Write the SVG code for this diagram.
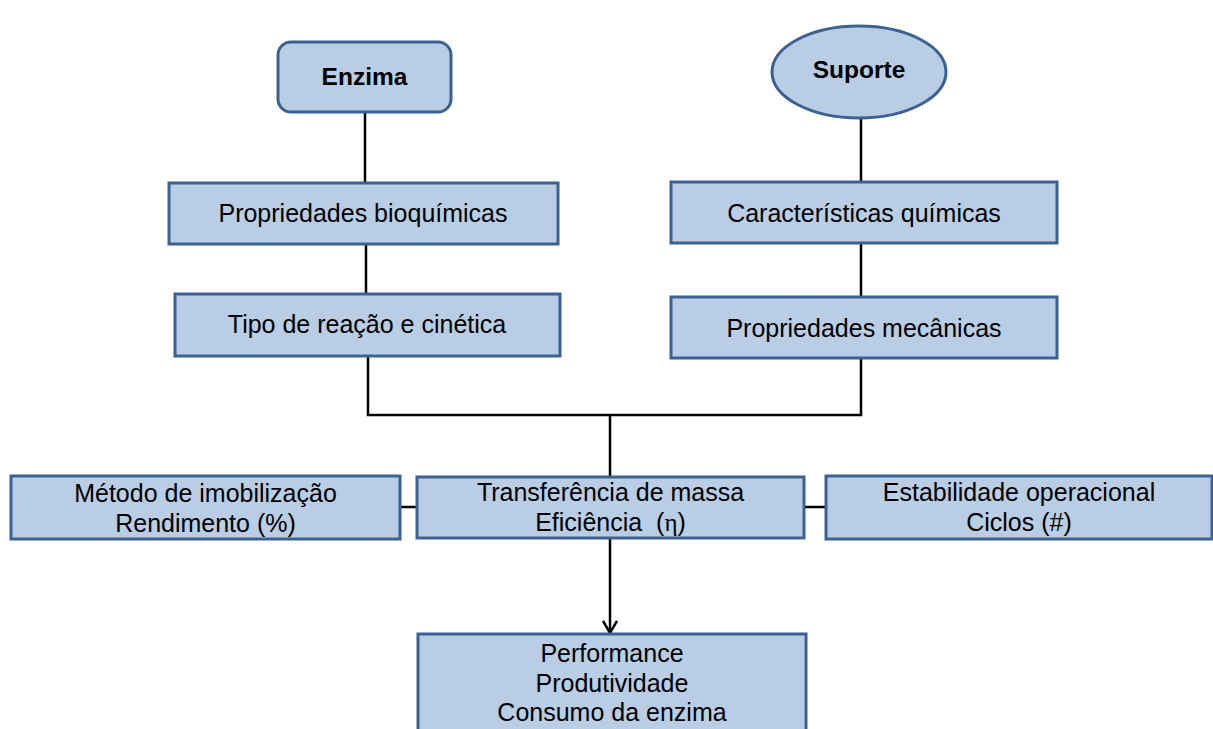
<svg xmlns="http://www.w3.org/2000/svg" width="1213" height="729" viewBox="0 0 1213 729">
<defs>
<style>
.box{fill:#B9CDE5;stroke:#3D6190;stroke-width:3}
.t{font-family:"Liberation Sans",Arial,sans-serif;font-size:25px;fill:#000;text-anchor:middle}
.b{font-family:"Liberation Sans",Arial,sans-serif;font-size:24.5px;font-weight:bold;fill:#000;text-anchor:middle}
.ln{stroke:#000;stroke-width:2.5;fill:none}
</style>
<marker id="arr" markerWidth="16" markerHeight="16" refX="14" refY="8" orient="auto" markerUnits="userSpaceOnUse" viewBox="0 0 16 16">
<polyline points="2,1 14,8 2,15" fill="none" stroke="#000" stroke-width="2.5"/>
</marker>
</defs>
<rect width="1213" height="729" fill="#fff"/>
<g id="connectors">
<line class="ln" x1="365" y1="112" x2="365" y2="183"/>
<line class="ln" x1="366" y1="244" x2="366" y2="294"/>
<line class="ln" x1="861" y1="118" x2="861" y2="182"/>
<line class="ln" x1="861" y1="243" x2="861" y2="297"/>
<polyline class="ln" points="368,356 368,415 861,415 861,358"/>
<line class="ln" x1="610" y1="415" x2="610" y2="477"/>
<line class="ln" x1="400" y1="507" x2="417" y2="507"/>
<line class="ln" x1="804" y1="507" x2="826" y2="507"/>
<line class="ln" x1="610" y1="538" x2="610" y2="633" marker-end="url(#arr)"/>
</g>
<g id="enzima">
<rect class="box" x="278" y="42" width="173" height="70" rx="13"/>
<text class="b" x="364.5" y="85">Enzima</text>
</g>
<g id="suporte">
<ellipse class="box" cx="859" cy="72" rx="87" ry="46"/>
<text class="b" x="859" y="78">Suporte</text>
</g>
<g id="prop-bio">
<rect class="box" x="169" y="183" width="389" height="61"/>
<text class="t" x="363" y="222">Propriedades bioquímicas</text>
</g>
<g id="tipo-reacao">
<rect class="box" x="175" y="294" width="385" height="62"/>
<text class="t" x="367" y="333">Tipo de reação e cinética</text>
</g>
<g id="caract-quim">
<rect class="box" x="671" y="182" width="386" height="61"/>
<text class="t" x="864" y="222">Características químicas</text>
</g>
<g id="prop-mec">
<rect class="box" x="671" y="297" width="386" height="61"/>
<text class="t" x="864" y="337">Propriedades mecânicas</text>
</g>
<g id="metodo">
<rect class="box" x="11" y="476" width="389" height="63"/>
<text class="t" x="205.5" y="502">Método de imobilização</text>
<text class="t" x="205.5" y="532">Rendimento (%)</text>
</g>
<g id="transferencia">
<rect class="box" x="417" y="477" width="387" height="61"/>
<text class="t" x="610.5" y="501">Transferência de massa</text>
<text class="t" x="610.5" y="531">Eficiência <tspan dx="7">(</tspan><tspan font-family="Liberation Serif,serif">η</tspan>)</text>
</g>
<g id="estabilidade">
<rect class="box" x="826" y="476" width="386" height="63"/>
<text class="t" x="1019" y="501">Estabilidade operacional</text>
<text class="t" x="1019" y="531">Ciclos (#)</text>
</g>
<g id="performance">
<rect class="box" x="418" y="634" width="388" height="110"/>
<text class="t" x="612" y="662">Performance</text>
<text class="t" x="612" y="692">Produtividade</text>
<text class="t" x="612" y="721">Consumo da enzima</text>
</g>
</svg>
